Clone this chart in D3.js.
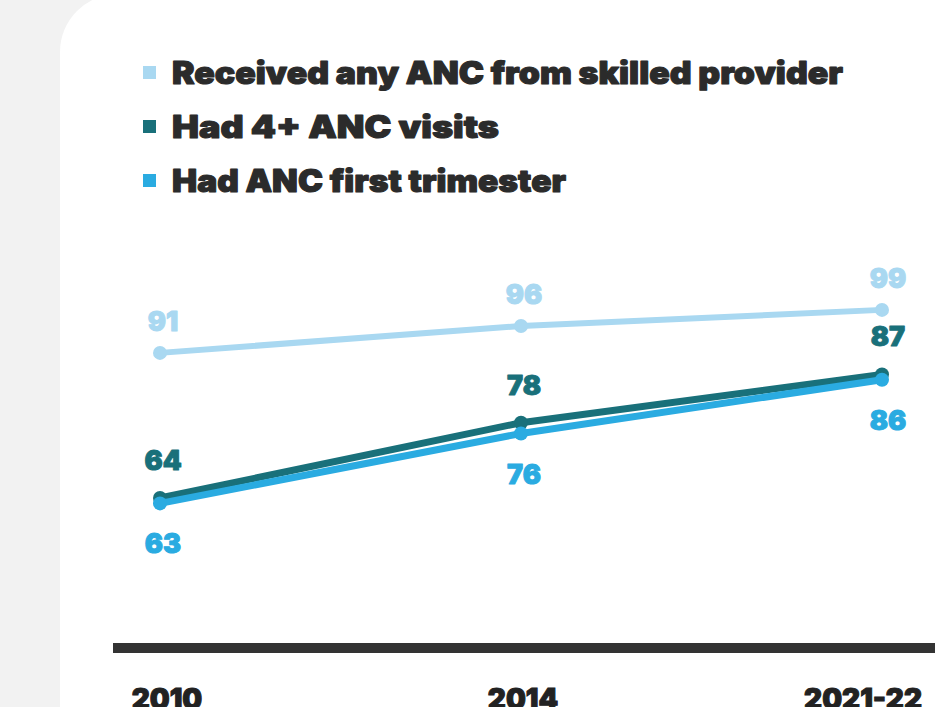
<!DOCTYPE html>
<html><head><meta charset="utf-8">
<script src="https://cdn.jsdelivr.net/npm/d3@7/dist/d3.min.js"></script>
<style>
html,body{margin:0;padding:0;background:#f2f2f2;}
svg{display:block;}
text{font-family:Inter, "Open Sans", Lato, sans-serif;font-weight:900;}
</style></head>
<body>
<svg id="chart" width="949" height="707"></svg>
<script>
const years = ["2010", "2014", "2021-22"];
const seriesNames = ["Received any ANC from skilled provider", "Had 4+ ANC visits", "Had ANC first trimester"];
const anySkilled = [91, 96, 99];
const fourPlus = [64, 78, 87];
const firstTrimester = [63, 76, 86];
const colors = ["#a9d8f1", "#19707a", "#2aabe1"];

const series = [
  {name: seriesNames[0], values: anySkilled, color: colors[0], dy: -22, w: 6, legW: 671},
  {name: seriesNames[1], values: fourPlus, color: colors[1], dy: -28, w: 7, legW: 327},
  {name: seriesNames[2], values: firstTrimester, color: colors[2], dy: 50, w: 7, legW: 394}
];

const svg = d3.select("#chart");
// white card
svg.append("rect").attr("x", 60).attr("y", -6).attr("width", 1000).attr("height", 900)
  .attr("rx", 58).attr("fill", "#ffffff");

const x = d3.scalePoint().domain(years).range([160, 882]);
const y = d3.scaleLinear().domain([40, 100]).range([627, 304.5]);

// legend
const leg = svg.append("g");
series.forEach((s, i) => {
  const cy = 73 + i * 54;
  leg.append("rect").attr("x", 143).attr("y", cy - 7).attr("width", 13).attr("height", 13).attr("fill", s.color);
  leg.append("text").attr("x", 172).attr("y", cy + 11).attr("font-size", 31).attr("fill", "#2b2b2b")
    .attr("stroke", "#2b2b2b").attr("stroke-width", 1.1).attr("stroke-linejoin", "round")
    .attr("textLength", s.legW).attr("lengthAdjust", "spacingAndGlyphs").text(s.name);
});

// axis line
svg.append("line").attr("x1", 113).attr("x2", 935).attr("y1", 648).attr("y2", 648)
  .attr("stroke", "#333333").attr("stroke-width", 10);

// x labels
const xl = [{d: "2010", dx: 7, a: "middle"}, {d: "2014", dx: 2, a: "middle"}, {d: "2021-22", dx: 40, a: "end"}];
xl.forEach(t => {
  svg.append("text").attr("x", x(t.d) + t.dx).attr("y", 709).attr("text-anchor", t.a)
    .attr("font-size", 28).attr("fill", "#222").attr("stroke", "#222").attr("stroke-width", 1)
    .text(t.d);
});

const line = d3.line().x((d, i) => x(years[i])).y(d => y(d));

[0, 1, 2].forEach(k => {
  const s = series[k];
  svg.append("path").datum(s.values).attr("d", line).attr("fill", "none")
    .attr("stroke", s.color).attr("stroke-width", s.w).attr("stroke-linejoin", "round").attr("stroke-linecap", "round");
  svg.selectAll(null).data(s.values).enter().append("circle")
    .attr("cx", (d, i) => x(years[i])).attr("cy", d => y(d)).attr("r", 7).attr("fill", s.color);
});

// value labels
series.forEach(s => {
  svg.selectAll(null).data(s.values).enter().append("text")
    .attr("x", (d, i) => x(years[i]) + (i === 2 ? 6 : 3))
    .attr("y", d => y(d) + s.dy)
    .attr("text-anchor", "middle").attr("font-size", 27).attr("fill", s.color)
    .attr("stroke", s.color).attr("stroke-width", 1).attr("stroke-linejoin", "round")
    .text(d => d);
});
</script>
</body></html>
